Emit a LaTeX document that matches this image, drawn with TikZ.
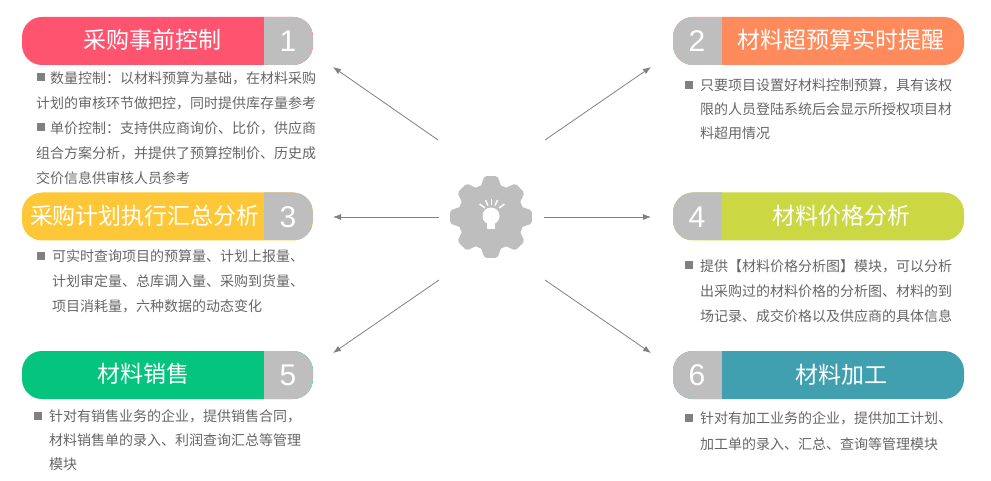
\documentclass[tikz,border=0pt]{standalone}
\usepackage{fontspec}
\setmainfont{Noto Sans CJK SC}
\newfontfamily\numfont{Liberation Sans}
\usetikzlibrary{arrows.meta}
\definecolor{pinkfill}{HTML}{FF5470}
\definecolor{orangefill}{HTML}{FF8A5B}
\definecolor{yellowfill}{HTML}{FDC737}
\definecolor{limefill}{HTML}{CBD844}
\definecolor{greenfill}{HTML}{05C47E}
\definecolor{tealfill}{HTML}{41A0B0}
\definecolor{numgray}{HTML}{BEBEBE}
\definecolor{bodygray}{HTML}{666666}
\definecolor{linegray}{HTML}{808080}

\begin{document}
\begin{tikzpicture}[
  x=1pt, y=-1pt,
  pill/.style={rounded corners=20pt, minimum width=291pt, minimum height=48pt, inner sep=0pt},
  pillleft/.style={pill, fill=#1, path picture={\fill[numgray, sharp corners] ([xshift=-49pt]path picture bounding box.south east) rectangle (path picture bounding box.north east);}},
  pillright/.style={pill, fill=#1, path picture={\fill[numgray, sharp corners] (path picture bounding box.south west) rectangle ([xshift=49pt]path picture bounding box.north west);}},
  title/.style={text=white, inner sep=0pt, font=\fontsize{23}{23}\selectfont},
  number/.style={text=white, inner sep=0pt, font=\numfont\fontsize{30}{30}\selectfont},
  body/.style={text=bodygray, anchor=north west, align=left, inner sep=0pt},
  bulletbox/.style={fill=linegray, minimum size=8pt, inner sep=0pt},
  line/.style={-{Latex[length=8pt,width=6pt]}, linegray, line width=0.8pt},
  gearpart/.style={fill=numgray}
]
  \useasboundingbox (0,0) rectangle (991,481);

  \node[pillleft=pinkfill] (pill1) at (167.5,41) {};
  \node[pillright=orangefill] (pill2) at (818.5,41) {};
  \node[pillleft=yellowfill] (pill3) at (167.5,216.5) {};
  \node[pillright=limefill] (pill4) at (818.5,216.5) {};
  \node[pillleft=greenfill] (pill5) at (167.5,375) {};
  \node[pillright=tealfill] (pill6) at (818.5,375) {};

  \node[title] (title1) at (152,40) {采购事前控制};
  \node[title] (title2) at (841,40) {材料超预算实时提醒};
  \node[title] (title3) at (145,216) {采购计划执行汇总分析};
  \node[title] (title4) at (841,216) {材料价格分析};
  \node[title] (title5) at (143,374) {材料销售};
  \node[title] (title6) at (841,375) {材料加工};

  \node[number] (num1) at (288,41) {1};
  \node[number] (num2) at (697,41) {2};
  \node[number] (num3) at (288,217) {3};
  \node[number] (num4) at (697,217) {4};
  \node[number] (num5) at (288,375) {5};
  \node[number] (num6) at (697,375) {6};

  \node[body, font=\fontsize{14}{25.2}\selectfont] (text1) at (36,71) {\hspace*{14pt}数量控制：以材料预算为基础，在材料采购\\计划的审核环节做把控，同时提供库存量参考\\\hspace*{14pt}单价控制：支持供应商询价、比价，供应商\\组合方案分析，并提供了预算控制价、历史成\\交价信息供审核人员参考};
  \node[body, font=\fontsize{14}{24}\selectfont] (text2) at (700,78.5) {只要项目设置好材料控制预算，具有该权\\限的人员登陆系统后会显示所授权项目材\\料超用情况};
  \node[body, font=\fontsize{14}{25}\selectfont] (text3) at (52,249) {可实时查询项目的预算量、计划上报量、\\计划审定量、总库调入量、采购到货量、\\项目消耗量，六种数据的动态变化};
  \node[body, font=\fontsize{14}{25}\selectfont] (text4) at (700,259) {提供【材料价格分析图】模块，可以分析\\出采购过的材料价格的分析图、材料的到\\场记录、成交价格以及供应商的具体信息};
  \node[body, font=\fontsize{14}{24}\selectfont] (text5) at (49,409) {针对有销售业务的企业，提供销售合同，\\材料销售单的录入、利润查询汇总等管理\\模块};
  \node[body, font=\fontsize{14}{26}\selectfont] (text6) at (700,411) {针对有加工业务的企业，提供加工计划、\\加工单的录入、汇总、查询等管理模块};

  \node[bulletbox] (dot1) at (41,77) {};
  \node[bulletbox] (dot1b) at (41,127) {};
  \node[bulletbox] (dot2) at (689,85) {};
  \node[bulletbox] (dot3) at (41,256) {};
  \node[bulletbox] (dot4) at (689,265) {};
  \node[bulletbox] (dot5) at (38,416) {};
  \node[bulletbox] (dot6) at (689,418) {};

  \node[gearpart, circle, minimum size=66pt, inner sep=0pt] (gear) at (491,217) {};
  \begin{scope}[shift={(gear.center)}]
    \foreach \a in {0,45,...,315}
      \fill[gearpart, rounded corners=2pt] (\a-22:30) -- (\a-9:41.5) -- (\a+9:41.5) -- (\a+22:30) -- cycle;
    \fill[white] (0,-1) circle (8.5);
    \fill[white] (-4,4) -- (4,4) -- (4,12) -- (-4,12) -- cycle;
    \foreach \xa/\ya/\xb/\yb in {-11.5/-13/-6/-9, -5.5/-17/-3/-11.5, 0.5/-18/0.5/-12, 6.5/-17/4/-11.5, 13.5/-13/8/-9}
      \draw[white, line width=1.4pt] (\xa,\ya) -- (\xb,\yb);
  \end{scope}

  \coordinate (from1) at (438,140);
  \coordinate (to1) at (333,67);
  \coordinate (from2) at (545,140);
  \coordinate (to2) at (651,67);
  \coordinate (from3) at (439,217);
  \coordinate (to3) at (333,217);
  \coordinate (from4) at (544,217);
  \coordinate (to4) at (651,217);
  \coordinate (from5) at (439,280);
  \coordinate (to5) at (333,353);
  \coordinate (from6) at (545,280);
  \coordinate (to6) at (651,353);

  \draw[line] (from1) -- (to1);
  \draw[line] (from2) -- (to2);
  \draw[line] (from3) -- (to3);
  \draw[line] (from4) -- (to4);
  \draw[line] (from5) -- (to5);
  \draw[line] (from6) -- (to6);
\end{tikzpicture}
\end{document}
